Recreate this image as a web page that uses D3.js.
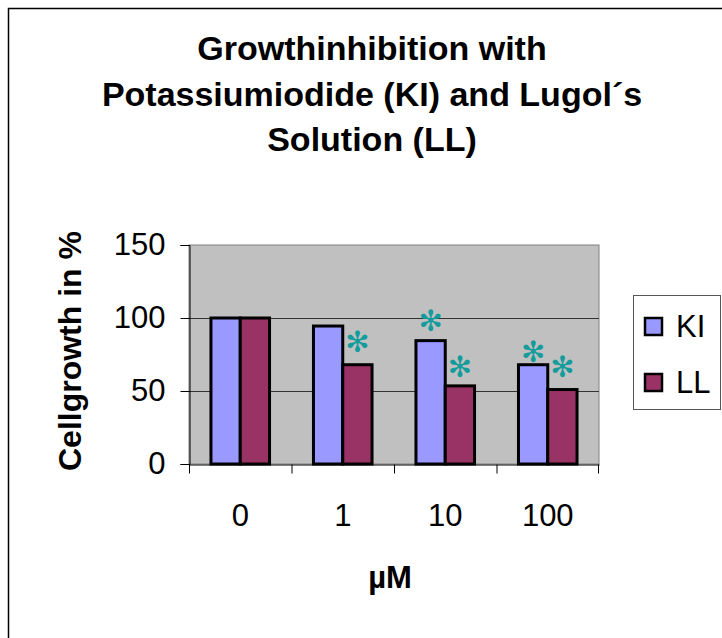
<!DOCTYPE html>
<html>
<head>
<meta charset="utf-8">
<script src="https://cdn.jsdelivr.net/npm/d3@7"></script>
<style>
  body { margin: 0; background: #fff; }
  svg { display: block; font-family: "Liberation Sans", Arial, sans-serif; }
</style>
</head>
<body>
<div id="chart"></div>
<script>
// chart data
var categories = ["0", "1", "10", "100"];
var seriesNames = ["KI", "LL"];
var kiValues = [100, 94.5, 84.5, 68];
var llValues = [100, 68, 53.5, 51];
var yTicks = [0, 50, 100, 150];
var titleLines = ["Growthinhibition with", "Potassiumiodide (KI) and Lugol\u00b4s", "Solution (LL)"];
// significance marks: series, category, height (in % units) of the star centre
var stars = [
  { s: "LL", c: "1", v: 83.5 },
  { s: "KI", c: "10", v: 98 },
  { s: "LL", c: "10", v: 66.5 },
  { s: "KI", c: "100", v: 77 },
  { s: "LL", c: "100", v: 66.5 }
];

var colors = { KI: "#9999ff", LL: "#993366" };
var W = 722, H = 638;

var svg = d3.select("#chart").append("svg")
  .attr("width", W)
  .attr("height", H);

// outer chart frame
svg.append("rect")
  .attr("x", 8.5).attr("y", 8.5)
  .attr("width", 760).attr("height", 700)
  .attr("fill", "#fff")
  .attr("stroke", "#000")
  .attr("stroke-width", 1.5);

var plot = { left: 189, right: 599, top: 245, bottom: 464 };

var y = d3.scaleLinear().domain([0, 150]).range([plot.bottom, plot.top]);
var x0 = d3.scaleBand().domain(categories).range([plot.left, plot.right]);
var bw = x0.bandwidth() / 3.5;  // gap width 150%
var x1 = d3.scaleBand().domain(seriesNames).range([0.75 * bw, 2.75 * bw]);

// plot area
svg.append("rect")
  .attr("x", plot.left).attr("y", plot.top)
  .attr("width", plot.right - plot.left).attr("height", plot.bottom - plot.top)
  .attr("fill", "#c0c0c0")
  .attr("stroke", "#808080")
  .attr("stroke-width", 1);

// gridlines
svg.append("g")
  .selectAll("line")
  .data(yTicks.filter(function(d){ return d > 0 && d < 150; }))
  .enter().append("line")
  .attr("x1", plot.left).attr("x2", plot.right)
  .attr("y1", function(d){ return y(d) + 0.5; })
  .attr("y2", function(d){ return y(d) + 0.5; })
  .attr("stroke", "#333")
  .attr("stroke-width", 1);

// bars
var rows = categories.map(function(c, i){
  return { c: c, KI: kiValues[i], LL: llValues[i] };
});
svg.append("g")
  .selectAll("g")
  .data(rows)
  .enter().append("g")
  .attr("transform", function(d){ return "translate(" + x0(d.c) + ",0)"; })
  .selectAll("rect")
  .data(function(d){ return seriesNames.map(function(s){ return { s: s, v: d[s] }; }); })
  .enter().append("rect")
  .attr("x", function(d){ return x1(d.s); })
  .attr("y", function(d){ return y(d.v); })
  .attr("width", x1.bandwidth())
  .attr("height", function(d){ return y(0) - y(d.v); })
  .attr("fill", function(d){ return colors[d.s]; })
  .attr("stroke", "#000")
  .attr("stroke-width", 3);

// axes
var yAxis = d3.axisLeft(y).tickValues(yTicks).tickSize(9).tickFormat(d3.format("d"));
var gy = svg.append("g")
  .attr("transform", "translate(" + (plot.left + 0.5) + ",0)")
  .call(yAxis);
gy.select(".domain").attr("stroke", "#000");
gy.selectAll(".tick line").attr("stroke", "#000");
gy.selectAll(".tick text")
  .attr("x", -24)
  .attr("font-size", 31)
  .attr("font-family", "Liberation Sans, Arial, sans-serif")
  .attr("fill", "#000");

var xAxis = d3.axisBottom(x0).tickSize(0).tickSizeOuter(0);
var gx = svg.append("g")
  .attr("transform", "translate(0," + (plot.bottom + 0.5) + ")")
  .call(xAxis);
gx.select(".domain").attr("stroke", "#000");
gx.selectAll(".tick text")
  .attr("y", 61).attr("dy", null)
  .attr("font-size", 31)
  .attr("font-family", "Liberation Sans, Arial, sans-serif")
  .attr("fill", "#000");
// category separator ticks
gx.append("g")
  .selectAll("line")
  .data(categories.concat(["end"]))
  .enter().append("line")
  .attr("x1", function(d, i){ return i < categories.length ? x0(d) + 0.5 : plot.right - 0.5; })
  .attr("x2", function(d, i){ return i < categories.length ? x0(d) + 0.5 : plot.right - 0.5; })
  .attr("y1", 0).attr("y2", 9)
  .attr("stroke", "#000");

// significance stars
svg.append("g")
  .selectAll("text")
  .data(stars)
  .enter().append("text")
  .attr("x", function(d){ return x0(d.c) + x1(d.s) + x1.bandwidth() / 2; })
  .attr("y", function(d){ return y(d.v); })
  .attr("dy", "0.35em")
  .attr("text-anchor", "middle")
  .attr("font-family", "DejaVu Sans")
  .attr("font-size", 29)
  .attr("font-weight", "bold")
  .attr("fill", "#129c9c")
  .text("\u273b");

// title
svg.append("g")
  .selectAll("text")
  .data(titleLines)
  .enter().append("text")
  .attr("x", 372)
  .attr("y", function(d, i){ return 60 + i * 45.5; })
  .attr("text-anchor", "middle")
  .attr("font-size", 34)
  .attr("font-weight", "bold")
  .text(function(d){ return d; });

// axis titles
svg.append("text")
  .attr("transform", "translate(70,351) rotate(-90)")
  .attr("dy", "0.35em")
  .attr("text-anchor", "middle")
  .attr("font-size", 32)
  .attr("font-weight", "bold")
  .text("Cellgrowth in %");

svg.append("text")
  .attr("x", 390).attr("y", 588)
  .attr("text-anchor", "middle")
  .attr("font-size", 31)
  .attr("font-weight", "bold")
  .text("\u00b5M");

// legend
var legend = svg.append("g");
legend.append("rect")
  .attr("x", 633.5).attr("y", 295.5)
  .attr("width", 87).attr("height", 114)
  .attr("fill", "#fff")
  .attr("stroke", "#555")
  .attr("stroke-width", 1);
var li = legend.selectAll("g.item")
  .data(seriesNames)
  .enter().append("g")
  .attr("class", "item")
  .attr("transform", function(d, i){ return "translate(645," + (318 + i * 56) + ")"; });
li.append("rect")
  .attr("width", 17).attr("height", 17)
  .attr("fill", function(d){ return colors[d]; })
  .attr("stroke", "#000")
  .attr("stroke-width", 2.5);
li.append("text")
  .attr("x", 31).attr("y", 8.5)
  .attr("dy", "0.35em")
  .attr("font-size", 31)
  .text(function(d){ return d; });
</script>
</body>
</html>
